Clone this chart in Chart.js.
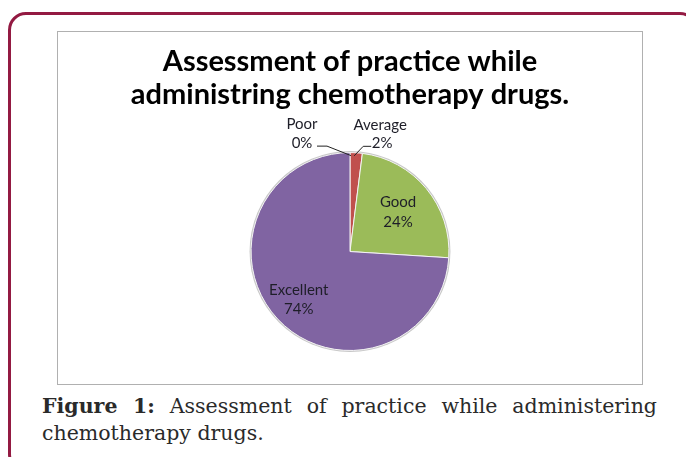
<!DOCTYPE html>
<html>
<head>
<meta charset="utf-8">
<script src="https://cdn.jsdelivr.net/npm/chart.js@4.4.1/dist/chart.umd.min.js"></script>
<style>
  html, body { margin: 0; padding: 0; background: #fff; }
  body { width: 686px; height: 457px; position: relative; overflow: hidden; }
  #frame {
    position: absolute; left: 8px; top: 12px; width: 690px; height: 460px;
    border: 3px solid #931a42; border-radius: 18px; box-sizing: border-box;
  }
  #chartBox {
    position: absolute; left: 57px; top: 31px; width: 586px; height: 354px;
    border: 1px solid #b0b0b0; box-sizing: border-box;
  }
  #chartBox canvas { position: absolute; left: 0; top: 0; }
  #caption {
    position: absolute; left: 42px; top: 393px; width: 615px;
    font-family: "DejaVu Serif", serif; font-size: 20.5px; line-height: 27px;
    color: #2a2a2a; text-align: justify;
  }
</style>
</head>
<body>
<div id="frame"></div>
<div id="chartBox"><canvas id="pieChart" width="584" height="352"></canvas></div>
<div id="caption"><b>Figure 1:</b> Assessment of practice while administering chemotherapy drugs.</div>
<script>
const categories = ['Poor', 'Average', 'Good', 'Excellent'];
const percentValues = [0, 2, 24, 74];
const sliceColors = ['#4F81BD', '#C0504D', '#9BBB59', '#8064A2'];
const titleLines = ['Assessment of practice while', 'administring chemotherapy drugs.'];

// labels drawn the way the original spreadsheet chart placed them
const sliceLabels = {
    id: 'sliceLabels',
    beforeDatasetsDraw(chart) {
        // light rim around the pie
        const arc = chart.getDatasetMeta(0).data[0];
        const p = arc.getProps(['x', 'y', 'outerRadius'], true);
        const ctx = chart.ctx;
        ctx.save();
        ctx.beginPath();
        ctx.arc(p.x, p.y, p.outerRadius + 1.5, 0, Math.PI * 2);
        ctx.fillStyle = '#c8c8c8';
        ctx.fill();
        ctx.restore();
    },
    afterDatasetsDraw(chart) {
        const ctx = chart.ctx;
        const meta = chart.getDatasetMeta(0);
        ctx.save();
        ctx.font = '15px Lato';
        ctx.fillStyle = '#1e1e28';
        ctx.textAlign = 'center';
        ctx.textBaseline = 'middle';
        meta.data.forEach(function(arc, i) {
            const p = arc.getProps(['x', 'y', 'startAngle', 'endAngle', 'outerRadius'], true);
            const mid = (p.startAngle + p.endAngle) / 2;
            const name = categories[i];
            const pct = percentValues[i] + '%';
            if (name === 'Good' || name === 'Excellent') {
                const f = name === 'Good' ? 0.63 : 0.71;
                const lx = p.x + Math.cos(mid) * p.outerRadius * f;
                const ly = p.y + Math.sin(mid) * p.outerRadius * f;
                ctx.fillText(name, lx, ly - 9.5);
                ctx.fillText(pct, lx, ly + 10);
            } else {
                const ex = p.x + Math.cos(mid) * p.outerRadius;
                const ey = p.y + Math.sin(mid) * p.outerRadius;
                const dir = name === 'Poor' ? -1 : 1;
                ctx.strokeStyle = '#222';
                ctx.lineWidth = 1;
                ctx.beginPath();
                if (dir < 0) {
                    ctx.moveTo(ex - 33, ey - 6.5);
                    ctx.lineTo(ex - 23, ey - 6.5);
                    ctx.lineTo(ex + 1, ey + 3);
                } else {
                    ctx.moveTo(ex + 15, ey - 6.5);
                    ctx.lineTo(ex + 7, ey - 6.5);
                    ctx.lineTo(ex - 2, ey + 3);
                }
                ctx.stroke();
                const tx = dir < 0 ? ex - 48 : ex + 24;
                ctx.fillText(name, tx, ey - 28);
                ctx.fillText(pct, tx + (dir < 0 ? 0 : 2), ey - 9.5);
            }
        });
        ctx.restore();
    }
};

new Chart(document.getElementById('pieChart').getContext('2d'), {
    type: 'pie',
    data: {
        labels: categories,
        datasets: [{
            data: percentValues,
            backgroundColor: sliceColors,
            borderColor: '#f4f4f4',
            borderWidth: 1
        }]
    },
    options: {
        responsive: false,
        animation: false,
        layout: { padding: { top: 0, bottom: 33, left: 0, right: 0 } },
        plugins: {
            legend: { display: false },
            tooltip: { enabled: false },
            title: {
                display: true,
                text: titleLines,
                color: '#000',
                font: { family: 'Lato', size: 29, weight: 'bold', lineHeight: 1.14 },
                padding: { top: 13, bottom: 41 }
            }
        }
    },
    plugins: [sliceLabels]
});
</script>
</body>
</html>
